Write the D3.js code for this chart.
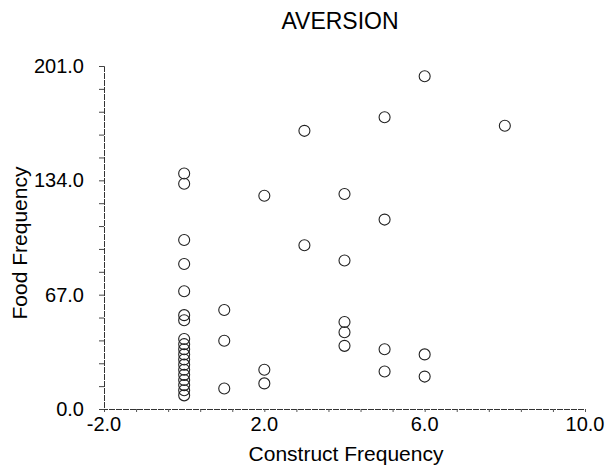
<!DOCTYPE html>
<html>
<head>
<meta charset="utf-8">
<script src="https://cdn.jsdelivr.net/npm/d3@7"></script>
<style>
    body { margin: 0; background: #fff; }
    text { font-family: "Liberation Sans", Arial, sans-serif; fill: #000; }
</style>
</head>
<body>
<div id="chart"></div>
<script>
// values
let chartTitle = "AVERSION";
let xLabel = "Construct Frequency";
let yLabel = "Food Frequency";

let constructFreq = [6, 5, 3, 8, 0, 0, 2, 4, 5, 3, 0, 4, 0, 0, 1, 0, 0, 4, 4, 1, 4, 5, 6,
    0, 0, 0, 0, 0, 0, 0, 0, 0, 0, 0, 0, 2, 2, 5, 6, 1];
let foodFreq = [195, 171, 163, 166, 138, 132, 125, 126, 111, 96, 99, 87, 85, 69, 58, 55, 52, 51, 45, 40, 37, 35, 32,
    41, 38, 35, 32, 29, 26, 23, 20, 17, 14, 11, 8, 23, 15, 22, 19, 12];

let xTicks = [-2, 2, 6, 10];
let yTicks = [0, 67, 134, 201];

let width = 605, height = 476;

let svg = d3.select("#chart")
    .append("svg")
    .attr("width", width)
    .attr("height", height);

let x = d3.scaleLinear().domain([-2, 10]).range([104, 585]);
let y = d3.scaleLinear().domain([0, 201]).range([409, 66]);

// minor ticks, 5 per major interval
let xMinor = d3.range(0, 16).map(function (i) { return -2 + i * 0.8; });
let yMinor = d3.range(0, 16).map(function (i) { return i * 13.4; });

// x axis
let xAxis = svg.append("g")
    .attr("transform", "translate(0," + y(0) + ")")
    .call(d3.axisBottom(x).tickValues(xMinor).tickSize(3).tickFormat(""));
xAxis.select(".domain").attr("stroke", "#333").attr("stroke-dasharray", "6,1");
xAxis.selectAll(".tick line").attr("stroke", "#555");

svg.append("g")
    .selectAll("text")
    .data(xTicks)
    .enter()
    .append("text")
    .attr("x", function (d) { return x(d); })
    .attr("y", y(0) + 22)
    .attr("text-anchor", "middle")
    .style("font-size", "20px")
    .text(function (d) { return d.toFixed(1); });

// y axis
let yAxis = svg.append("g")
    .attr("transform", "translate(" + x(-2) + ",0)")
    .call(d3.axisLeft(y).tickValues(yMinor).tickSize(5).tickFormat(""));
yAxis.select(".domain").attr("stroke", "#333").attr("stroke-dasharray", "6,1");
yAxis.selectAll(".tick line").attr("stroke", "#444");

svg.append("g")
    .selectAll("text")
    .data(yTicks)
    .enter()
    .append("text")
    .attr("x", x(-2) - 20)
    .attr("y", function (d) { return y(d) + 7; })
    .attr("text-anchor", "end")
    .style("font-size", "20px")
    .text(function (d) { return d.toFixed(1); });

// points
let points = constructFreq.map(function (d, i) { return { cx: d, fy: foodFreq[i] }; });

svg.append("g")
    .selectAll("circle")
    .data(points)
    .enter()
    .append("circle")
    .attr("cx", function (d) { return x(d.cx); })
    .attr("cy", function (d) { return y(d.fy); })
    .attr("r", 5.5)
    .attr("fill", "none")
    .attr("stroke", "#222")
    .attr("stroke-width", 1.1);

// titles
svg.append("text")
    .attr("x", 340)
    .attr("y", 29)
    .attr("text-anchor", "middle")
    .style("font-size", "23px")
    .text(chartTitle);

svg.append("text")
    .attr("x", 346)
    .attr("y", 461)
    .attr("text-anchor", "middle")
    .style("font-size", "21px")
    .text(xLabel);

svg.append("text")
    .attr("transform", "translate(27,243)rotate(-90)")
    .attr("text-anchor", "middle")
    .style("font-size", "21px")
    .text(yLabel);
</script>
</body>
</html>
